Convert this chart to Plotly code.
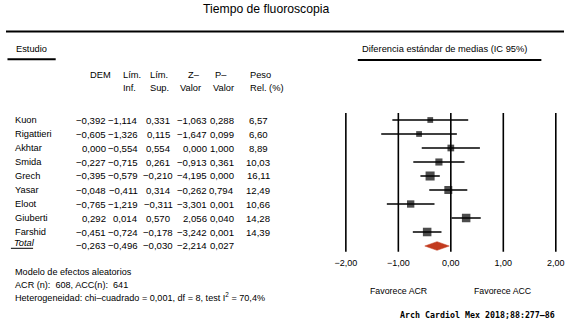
import plotly.graph_objects as go
import math

W, H = 567, 327

studies = ["Kuon", "Rigattieri", "Akhtar", "Smida", "Grech", "Yasar", "Eloot", "Giuberti", "Farshid"]
dem = [-0.392, -0.605, 0.000, -0.227, -0.395, -0.048, -0.765, 0.292, -0.451]
lim_inf = [-1.114, -1.326, -0.554, -0.715, -0.579, -0.411, -1.219, 0.014, -0.724]
lim_sup = [0.331, 0.115, 0.554, 0.261, -0.210, 0.314, -0.311, 0.570, -0.178]
z_val = [-1.063, -1.647, 0.000, -0.913, -4.195, -0.262, -3.301, 2.056, -3.242]
p_val = [0.288, 0.099, 1.000, 0.361, 0.000, 0.794, 0.001, 0.040, 0.001]
peso = [6.57, 6.60, 8.89, 10.03, 16.11, 12.49, 10.66, 14.28, 14.39]

total_label = "Total"
total = {"dem": -0.263, "inf": -0.496, "sup": -0.030, "z": -2.214, "p": 0.027}

x_ticks = [-2, -1, 0, 1, 2]
title = "Tiempo de fluoroscopia"
footer = ["Modelo de efectos aleatorios",
          "ACR (n):  608, ACC(n):  641",
          "Heterogeneidad: chi\u2013cuadrado = 0,001, df = 8, test I<sup>2</sup> = 70,4%"]
cite = "Arch Cardiol Mex 2018;88:277\u201386"

FONT = "Liberation Sans, Arial, sans-serif"


def fmt(v, d=3):
    s = f"{v:.{d}f}".replace(".", ",")
    return s.replace("-", "\u2212")


def px(x):
    return x / W


def py(y):
    return 1 - y / H


ROW0, ROWH = 120.0, 14.0
Y_BOT = 256.0

fig = go.Figure()

n = len(studies)
rows = list(range(n))
sizes = [2.25 * math.sqrt(w) for w in peso]

# reference vertical lines at the tick values
vx, vy = [], []
y_top, y_bot = (113 - ROW0) / ROWH, (251.7 - ROW0) / ROWH
for t in x_ticks:
    vx += [t, t, None]
    vy += [y_top, y_bot, None]
fig.add_trace(go.Scatter(x=vx, y=vy, mode="lines", line=dict(color="black", width=1.6),
                         hoverinfo="skip", showlegend=False, cliponaxis=False))

fig.add_trace(go.Scatter(
    x=dem, y=rows, mode="markers",
    marker=dict(symbol="square", size=sizes, color="black", line=dict(width=0)),
    error_x=dict(type="data", symmetric=False,
                 array=[h - d for h, d in zip(lim_sup, dem)],
                 arrayminus=[d - l for d, l in zip(dem, lim_inf)],
                 width=0, thickness=1.6, color="black"),
    hoverinfo="skip", showlegend=False, cliponaxis=False))

hh = 0.31
fig.add_trace(go.Scatter(
    x=[total["inf"], total["dem"], total["sup"], total["dem"], total["inf"]],
    y=[n, n - hh, n, n + hh, n],
    mode="lines", fill="toself", fillcolor="#c23b1f",
    line=dict(color="#c23b1f", width=0.5),
    hoverinfo="skip", showlegend=False))

shapes = []
# header rules
shapes.append(dict(type="line", xref="paper", yref="paper", x0=0, x1=1,
                   y0=py(31.5), y1=py(31.5), line=dict(color="black", width=2)))
shapes.append(dict(type="line", xref="paper", yref="paper", x0=px(1.5), x1=px(50.5),
                   y0=py(59.3), y1=py(59.3), line=dict(color="black", width=2)))
shapes.append(dict(type="line", xref="paper", yref="paper", x0=px(357.5), x1=px(544),
                   y0=py(60), y1=py(60), line=dict(color="black", width=2)))
shapes.append(dict(type="line", xref="paper", yref="paper", x0=px(5), x1=px(27.5),
                   y0=py(248.3), y1=py(248.3), line=dict(color="black", width=1)))

ann = []


def text(s, x, y, size=9.3, anchor="left", **kw):
    ann.append(dict(text=s, x=px(x), y=py(y), xref="paper", yref="paper",
                    xanchor=anchor, yanchor="middle", showarrow=False,
                    font=dict(family=kw.pop("family", FONT), size=size, color="black"), **kw))


text(title, 264, 9, size=12.2, anchor="center")
text("Estudio", 8, 49.5, size=9.3)
text("Diferencia est\u00e1ndar de medias (IC 95%)", 445.5, 49, size=9.3, anchor="center")

# table header
h1, h2 = 75, 88
text("DEM", 96.5, h1, anchor="center")
text("L\u00edm.", 116.8, h1)
text("Inf.", 117, h2)
text("L\u00edm.", 144.3, h1)
text("Sup.", 144.3, h2)
text("Z\u2013", 191, h1, anchor="center")
text("Valor", 187, h2, anchor="center")
text("P\u2013", 218, h1, anchor="center")
text("Valor", 221.5, h2, anchor="center")
text("Peso", 246, h1)
text("Rel. (%)", 246, h2)

cols = [
    (dem, 104, "right", 3),
    (lim_inf, 136.5, "right", 3),
    (lim_sup, 154.5, "center", 3),
    (z_val, 206.5, "right", 3),
    (p_val, 233.3, "right", 3),
]
NUMSZ = 9.6
for i in range(n):
    y = ROW0 + ROWH * i
    text(studies[i], 7.3, y)
    for vals, x, anc, d in cols:
        text(fmt(vals[i], d), x, y, size=NUMSZ, anchor=anc)
    text(fmt(peso[i], 2), 256.5, y, size=NUMSZ, anchor="center")

yt = ROW0 + ROWH * n - 1
text("<i>" + total_label + "</i>", 6, yt - 2.5)
for key, (vals, x, anc, d) in zip(["dem", "inf", "sup", "z", "p"], cols):
    text(fmt(total[key], d), x, yt, size=NUMSZ, anchor=anc)

text(footer[0], 7.3, 272.3, size=9.1)
text(footer[1], 7.3, 284.7, size=9.1)
text(footer[2], 7.3, 297, size=9.1)

ann.append(dict(text="Favorece ACR", x=-1, y=py(291), xref="x", yref="paper",
                xanchor="center", yanchor="middle", showarrow=False,
                font=dict(family=FONT, size=8.8, color="black")))
ann.append(dict(text="Favorece ACC", x=1, y=py(291), xref="x", yref="paper",
                xanchor="center", yanchor="middle", showarrow=False,
                font=dict(family=FONT, size=8.8, color="black")))

text("<b>" + cite + "</b>", 560, 315, size=8.3, anchor="right",
     family="DejaVu Sans Mono, Liberation Mono, monospace")

fig.update_layout(
    width=W, height=H, autosize=False,
    margin=dict(l=0, r=0, t=0, b=0, pad=0),
    paper_bgcolor="white", plot_bgcolor="white",
    separators=",.",
    shapes=shapes, annotations=ann,
    xaxis=dict(domain=[340 / W, 564 / W], range=[-2.1, 2.1],
               tickvals=x_ticks, tickformat=".2f", ticklabeloverflow="allow",
               showgrid=False, zeroline=False, showline=False, ticks="",
               tickfont=dict(family=FONT, size=9, color="black"), fixedrange=True),
    yaxis=dict(domain=[(H - Y_BOT) / H, 1],
               range=[(Y_BOT - ROW0) / ROWH, (0 - ROW0) / ROWH],
               visible=False, fixedrange=True),
)

fig.write_html("out.html", config={"displayModeBar": False},
               post_script="document.body.style.margin='0';document.body.style.overflow='hidden';")
